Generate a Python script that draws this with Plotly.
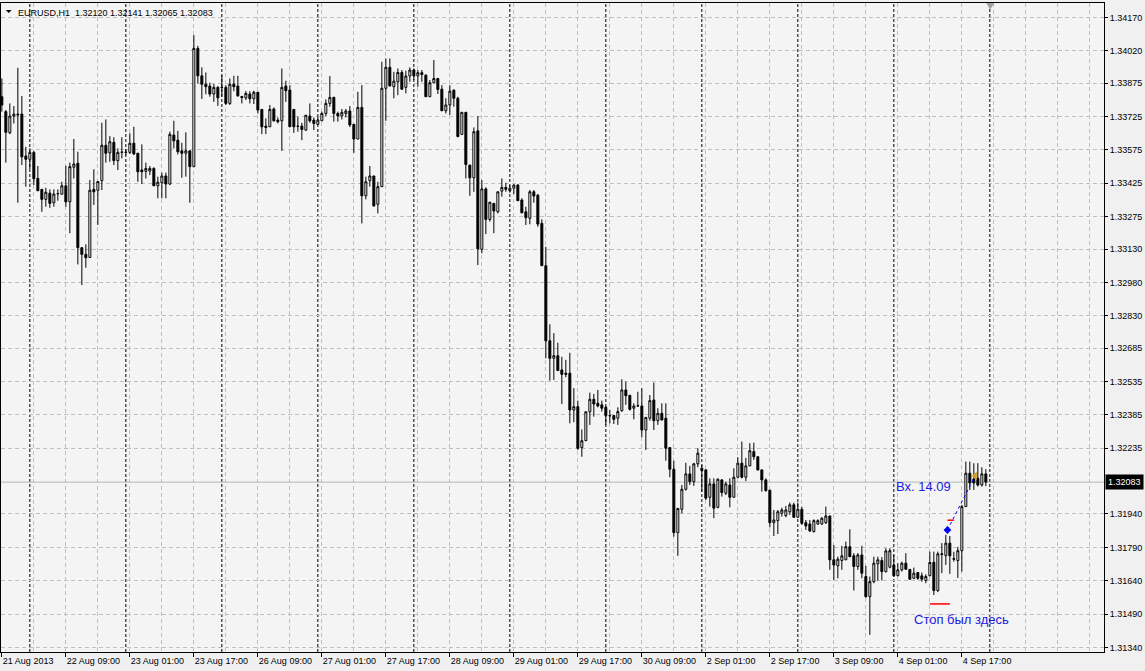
import plotly.graph_objects as go

# ---------------- data ----------------
symbol_header = "EURUSD,H1\u00a0\u00a01.32120 1.32141 1.32065 1.32083"

tick_labels = ["21 Aug 2013", "22 Aug 09:00", "23 Aug 01:00", "23 Aug 17:00",
               "26 Aug 09:00", "27 Aug 01:00", "27 Aug 17:00", "28 Aug 09:00",
               "29 Aug 01:00", "29 Aug 17:00", "30 Aug 09:00", "2 Sep 01:00",
               "2 Sep 17:00", "3 Sep 09:00", "4 Sep 01:00", "4 Sep 17:00"]
tick_bars = [0, 16, 32, 48, 64, 80, 96, 112, 128, 144, 160, 176, 192, 208, 224, 240]

price_ticks = [1.34170, 1.34020, 1.33875, 1.33725, 1.33575, 1.33425, 1.33275,
               1.33130, 1.32980, 1.32830, 1.32685, 1.32535, 1.32385, 1.32235,
               1.31940, 1.31790, 1.31640, 1.31490, 1.31340]

day_starts = [7, 31, 55, 79, 103, 127, 151, 175, 199, 223, 247]

opens = [
    1.33814, 1.33747, 1.33652, 1.33727, 1.33736, 1.33736, 1.33548, 1.33533,
    1.33564, 1.33447, 1.33398, 1.33353, 1.33381, 1.33338, 1.33378, 1.33376,
    1.33414, 1.33342, 1.33497, 1.33515, 1.33136, 1.33106, 1.33092, 1.33398,
    1.33394, 1.33437, 1.33596, 1.33562, 1.33609, 1.33527, 1.33564, 1.33565,
    1.33564, 1.33605, 1.33560, 1.33485, 1.33479, 1.33480, 1.33492, 1.33414,
    1.33428, 1.33458, 1.33422, 1.33642, 1.33619, 1.33571, 1.33560, 1.33571,
    1.33500, 1.34031, 1.33908, 1.33870, 1.33862, 1.33826, 1.33856, 1.33856,
    1.33856, 1.33784, 1.33870, 1.33862, 1.33815, 1.33809, 1.33826, 1.33805,
    1.33834, 1.33757, 1.33682, 1.33679, 1.33759, 1.33709, 1.33706, 1.33862,
    1.33844, 1.33757, 1.33682, 1.33682, 1.33664, 1.33727, 1.33709, 1.33690,
    1.33706, 1.33739, 1.33784, 1.33811, 1.33739, 1.33728, 1.33739, 1.33750,
    1.33690, 1.33624, 1.33766, 1.33369, 1.33437, 1.33458, 1.33331, 1.33410,
    1.33852, 1.33946, 1.33859, 1.33881, 1.33923, 1.33856, 1.33907, 1.33934,
    1.33908, 1.33922, 1.33911, 1.33814, 1.33877, 1.33896, 1.33848, 1.33751,
    1.33777, 1.33844, 1.33807, 1.33645, 1.33744, 1.33507, 1.33450, 1.33661,
    1.33129, 1.33400, 1.33263, 1.33335, 1.33297, 1.33390, 1.33407, 1.33392,
    1.33403, 1.33417, 1.33350, 1.33297, 1.33268, 1.33387, 1.33372, 1.33245,
    1.33055, 1.32718, 1.32639, 1.32651, 1.32587, 1.32572, 1.32572, 1.32407,
    1.32422, 1.32238, 1.32269, 1.32399, 1.32455, 1.32437, 1.32430, 1.32419,
    1.32382, 1.32382, 1.32370, 1.32404, 1.32497, 1.32473, 1.32415, 1.32425,
    1.32425, 1.32317, 1.32370, 1.32452, 1.32359, 1.32392, 1.32370, 1.32238,
    1.32141, 1.31856, 1.31961, 1.32051, 1.32120, 1.32085, 1.32165, 1.32145,
    1.32138, 1.32015, 1.32075, 1.31970, 1.32093, 1.32033, 1.32070, 1.32015,
    1.32105, 1.32168, 1.32105, 1.32156, 1.32220, 1.32197, 1.32138, 1.32093,
    1.32047, 1.31901, 1.31910, 1.31943, 1.31933, 1.31950, 1.31981, 1.31925,
    1.31961, 1.31901, 1.31895, 1.31861, 1.31895, 1.31895, 1.31901, 1.31931,
    1.31734, 1.31707, 1.31731, 1.31734, 1.31793, 1.31752, 1.31704, 1.31756,
    1.31659, 1.31569, 1.31636, 1.31716, 1.31731, 1.31681, 1.31701, 1.31711,
    1.31663, 1.31689, 1.31719, 1.31691, 1.31651, 1.31677, 1.31662, 1.31641,
    1.31663, 1.31723, 1.31596, 1.31761, 1.31753, 1.31809, 1.31739, 1.31731,
    1.31775, 1.31973, 1.32123, 1.32097, 1.32100, 1.32070, 1.32120]

highs = [
    1.33896, 1.33754, 1.33784, 1.33772, 1.33944, 1.33817, 1.33589, 1.33582,
    1.33571, 1.33503, 1.33398, 1.33405, 1.33398, 1.33398, 1.33398, 1.33432,
    1.33504, 1.33518, 1.33624, 1.33567, 1.33138, 1.33151, 1.33440, 1.33488,
    1.33434, 1.33697, 1.33712, 1.33637, 1.33632, 1.33582, 1.33632, 1.33579,
    1.33650, 1.33679, 1.33562, 1.33600, 1.33518, 1.33503, 1.33497, 1.33455,
    1.33473, 1.33473, 1.33657, 1.33706, 1.33661, 1.33607, 1.33654, 1.33572,
    1.34091, 1.34043, 1.33946, 1.33923, 1.33877, 1.33871, 1.33862, 1.33911,
    1.33866, 1.33896, 1.33908, 1.33908, 1.33818, 1.33839, 1.33839, 1.33841,
    1.33836, 1.33759, 1.33717, 1.33777, 1.33766, 1.33721, 1.33941, 1.33886,
    1.33866, 1.33759, 1.33724, 1.33697, 1.33732, 1.33784, 1.33721, 1.33727,
    1.33747, 1.33802, 1.33907, 1.33814, 1.33747, 1.33759, 1.33759, 1.33772,
    1.33691, 1.33836, 1.33866, 1.33455, 1.33503, 1.33459, 1.33432, 1.33971,
    1.33986, 1.33986, 1.33926, 1.33941, 1.33934, 1.33931, 1.33946, 1.33941,
    1.33934, 1.33934, 1.33914, 1.33889, 1.33979, 1.33897, 1.33866, 1.33807,
    1.33866, 1.33845, 1.33814, 1.33745, 1.33745, 1.33508, 1.33676, 1.33727,
    1.33440, 1.33407, 1.33342, 1.33336, 1.33388, 1.33447, 1.33428, 1.33417,
    1.33422, 1.33422, 1.33358, 1.33320, 1.33395, 1.33395, 1.33377, 1.33263,
    1.33140, 1.32792, 1.32752, 1.32709, 1.32646, 1.32632, 1.32664, 1.32505,
    1.32449, 1.32320, 1.32400, 1.32485, 1.32479, 1.32497, 1.32449, 1.32425,
    1.32407, 1.32385, 1.32419, 1.32545, 1.32534, 1.32474, 1.32437, 1.32489,
    1.32505, 1.32374, 1.32474, 1.32530, 1.32415, 1.32437, 1.32437, 1.32239,
    1.32179, 1.31966, 1.32070, 1.32170, 1.32156, 1.32170, 1.32235, 1.32160,
    1.32141, 1.32100, 1.32100, 1.32100, 1.32096, 1.32085, 1.32100, 1.32145,
    1.32195, 1.32265, 1.32192, 1.32258, 1.32260, 1.32198, 1.32139, 1.32100,
    1.32048, 1.31958, 1.31958, 1.31968, 1.31976, 1.31991, 1.31991, 1.31991,
    1.31973, 1.31913, 1.31913, 1.31916, 1.31916, 1.31925, 1.31973, 1.31932,
    1.31801, 1.31748, 1.31797, 1.31816, 1.31871, 1.31764, 1.31764, 1.31797,
    1.31707, 1.31659, 1.31748, 1.31748, 1.31746, 1.31786, 1.31786, 1.31756,
    1.31719, 1.31726, 1.31764, 1.31692, 1.31699, 1.31678, 1.31677, 1.31669,
    1.31771, 1.31771, 1.31771, 1.31809, 1.31846, 1.31841, 1.31770, 1.31792,
    1.31981, 1.32175, 1.32175, 1.32168, 1.32168, 1.32150, 1.32141]

lows = [
    1.33747, 1.33518, 1.33646, 1.33694, 1.33338, 1.33507, 1.33410, 1.33489,
    1.33417, 1.33390, 1.33297, 1.33320, 1.33315, 1.33320, 1.33347, 1.33376,
    1.33320, 1.33201, 1.33447, 1.33061, 1.32968, 1.33046, 1.33090, 1.33328,
    1.33238, 1.33395, 1.33518, 1.33522, 1.33507, 1.33485, 1.33537, 1.33552,
    1.33557, 1.33552, 1.33432, 1.33422, 1.33447, 1.33462, 1.33413, 1.33358,
    1.33358, 1.33358, 1.33417, 1.33582, 1.33555, 1.33450, 1.33455, 1.33338,
    1.33499, 1.33874, 1.33804, 1.33825, 1.33814, 1.33791, 1.33773, 1.33814,
    1.33777, 1.33777, 1.33839, 1.33814, 1.33784, 1.33799, 1.33784, 1.33781,
    1.33739, 1.33646, 1.33646, 1.33678, 1.33702, 1.33694, 1.33571, 1.33791,
    1.33678, 1.33652, 1.33657, 1.33619, 1.33661, 1.33697, 1.33664, 1.33687,
    1.33705, 1.33727, 1.33769, 1.33702, 1.33702, 1.33712, 1.33721, 1.33678,
    1.33562, 1.33623, 1.33245, 1.33353, 1.33410, 1.33320, 1.33290, 1.33409,
    1.33706, 1.33859, 1.33807, 1.33821, 1.33844, 1.33829, 1.33881, 1.33889,
    1.33859, 1.33881, 1.33813, 1.33813, 1.33874, 1.33826, 1.33750, 1.33739,
    1.33732, 1.33769, 1.33632, 1.33642, 1.33447, 1.33369, 1.33387, 1.33058,
    1.33111, 1.33197, 1.33253, 1.33201, 1.33290, 1.33365, 1.33387, 1.33383,
    1.33377, 1.33346, 1.33290, 1.33238, 1.33241, 1.33338, 1.33230, 1.33054,
    1.32639, 1.32539, 1.32542, 1.32583, 1.32434, 1.32554, 1.32347, 1.32352,
    1.32228, 1.32197, 1.32268, 1.32340, 1.32377, 1.32419, 1.32400, 1.32340,
    1.32347, 1.32344, 1.32340, 1.32399, 1.32430, 1.32404, 1.32365, 1.32422,
    1.32285, 1.32228, 1.32359, 1.32317, 1.32340, 1.32361, 1.32179, 1.32105,
    1.31838, 1.31752, 1.31943, 1.32045, 1.32070, 1.32066, 1.32150, 1.32040,
    1.32003, 1.31973, 1.31921, 1.31965, 1.32018, 1.32025, 1.31970, 1.32014,
    1.32100, 1.32100, 1.32088, 1.32155, 1.32183, 1.32135, 1.32040, 1.32040,
    1.31880, 1.31841, 1.31850, 1.31928, 1.31925, 1.31936, 1.31924, 1.31924,
    1.31891, 1.31868, 1.31859, 1.31856, 1.31891, 1.31891, 1.31895, 1.31689,
    1.31644, 1.31651, 1.31689, 1.31733, 1.31747, 1.31596, 1.31689, 1.31651,
    1.31563, 1.31397, 1.31629, 1.31641, 1.31641, 1.31677, 1.31696, 1.31659,
    1.31659, 1.31681, 1.31689, 1.31644, 1.31647, 1.31644, 1.31636, 1.31629,
    1.31659, 1.31576, 1.31589, 1.31674, 1.31711, 1.31671, 1.31726, 1.31653,
    1.31681, 1.31972, 1.32048, 1.32048, 1.32063, 1.32063, 1.32065]

closes = [
    1.33777, 1.33654, 1.33727, 1.33736, 1.33733, 1.33544, 1.33533, 1.33564,
    1.33446, 1.33392, 1.33353, 1.33385, 1.33335, 1.33377, 1.33379, 1.33414,
    1.33342, 1.33500, 1.33512, 1.33136, 1.33106, 1.33091, 1.33394, 1.33387,
    1.33433, 1.33596, 1.33560, 1.33612, 1.33527, 1.33564, 1.33565, 1.33564,
    1.33605, 1.33557, 1.33477, 1.33477, 1.33492, 1.33492, 1.33414, 1.33430,
    1.33458, 1.33422, 1.33645, 1.33616, 1.33567, 1.33560, 1.33571, 1.33500,
    1.34031, 1.33908, 1.33870, 1.33859, 1.33826, 1.33856, 1.33809, 1.33855,
    1.33784, 1.33870, 1.33859, 1.33818, 1.33810, 1.33829, 1.33805, 1.33834,
    1.33754, 1.33679, 1.33676, 1.33757, 1.33706, 1.33702, 1.33856, 1.33841,
    1.33679, 1.33679, 1.33681, 1.33667, 1.33731, 1.33706, 1.33694, 1.33709,
    1.33739, 1.33784, 1.33811, 1.33739, 1.33728, 1.33744, 1.33750, 1.33687,
    1.33624, 1.33766, 1.33369, 1.33432, 1.33458, 1.33324, 1.33410, 1.33852,
    1.33946, 1.33863, 1.33884, 1.33923, 1.33848, 1.33907, 1.33934, 1.33908,
    1.33922, 1.33914, 1.33814, 1.33877, 1.33896, 1.33847, 1.33751, 1.33777,
    1.33839, 1.33807, 1.33635, 1.33744, 1.33510, 1.33450, 1.33657, 1.33131,
    1.33400, 1.33263, 1.33340, 1.33301, 1.33387, 1.33407, 1.33398, 1.33403,
    1.33417, 1.33347, 1.33293, 1.33271, 1.33387, 1.33368, 1.33242, 1.33055,
    1.32718, 1.32639, 1.32651, 1.32584, 1.32567, 1.32567, 1.32407, 1.32422,
    1.32235, 1.32269, 1.32399, 1.32455, 1.32434, 1.32425, 1.32415, 1.32382,
    1.32381, 1.32365, 1.32400, 1.32497, 1.32471, 1.32410, 1.32425, 1.32426,
    1.32317, 1.32374, 1.32449, 1.32359, 1.32392, 1.32362, 1.32235, 1.32141,
    1.31856, 1.31965, 1.32051, 1.32120, 1.32085, 1.32165, 1.32213, 1.32135,
    1.32011, 1.32075, 1.31966, 1.32096, 1.32036, 1.32075, 1.32015, 1.32105,
    1.32168, 1.32105, 1.32156, 1.32224, 1.32197, 1.32138, 1.32093, 1.32045,
    1.31901, 1.31913, 1.31950, 1.31958, 1.31958, 1.31981, 1.31925, 1.31961,
    1.31898, 1.31886, 1.31864, 1.31910, 1.31910, 1.31921, 1.31931, 1.31734,
    1.31711, 1.31737, 1.31752, 1.31793, 1.31748, 1.31704, 1.31756, 1.31674,
    1.31569, 1.31636, 1.31719, 1.31734, 1.31681, 1.31774, 1.31775, 1.31663,
    1.31689, 1.31719, 1.31692, 1.31647, 1.31674, 1.31651, 1.31647, 1.31659,
    1.31722, 1.31596, 1.31761, 1.31758, 1.31809, 1.31752, 1.31737, 1.31775,
    1.31973, 1.32123, 1.32079, 1.32079, 1.32070, 1.32120, 1.32083]

# trade objects drawn on the chart
entry_bar, entry_price = 236.4, 1.31868
exit_bar, exit_price = 243.3, 1.32111
stop_bars, stop_price = [232.0, 237.0], 1.31536
sl_mark_bars, sl_mark_price = [236.4, 238.0], 1.31912
entry_text = "Вх. 14.09"
entry_text_pos = (223.1, 1.32063)
stop_text = "Стоп был здесь"
stop_text_pos = (227.5, 1.31467)
last_price = closes[-1]

# ---------------- figure ----------------
FONT = "Liberation Sans, Arial, sans-serif"
GRID = "#c0c0c0"
bars = list(range(len(opens)))

fig = go.Figure()
fig.add_trace(go.Candlestick(
    x=bars, open=opens, high=highs, low=lows, close=closes,
    increasing=dict(line=dict(color="black", width=1), fillcolor="white"),
    decreasing=dict(line=dict(color="black", width=1), fillcolor="black"),
    whiskerwidth=0, hoverinfo="skip"))

# blue dotted trade line + entry marker
fig.add_trace(go.Scatter(x=[entry_bar, exit_bar], y=[entry_price, exit_price],
                         mode="lines", line=dict(color="#0000ff", width=1, dash="dot"),
                         hoverinfo="skip"))
fig.add_trace(go.Scatter(x=[entry_bar], y=[entry_price], mode="markers",
                         marker=dict(symbol="diamond", size=6, color="#0000ff"),
                         hoverinfo="skip"))
fig.add_trace(go.Scatter(x=[exit_bar], y=[exit_price], mode="markers",
                         marker=dict(symbol="triangle-left", size=7, color="#d4a020"),
                         hoverinfo="skip"))
# red stop levels
fig.add_trace(go.Scatter(x=stop_bars, y=[stop_price, stop_price], mode="lines",
                         line=dict(color="#ff0000", width=1.5), hoverinfo="skip"))
fig.add_trace(go.Scatter(x=sl_mark_bars, y=[sl_mark_price, sl_mark_price], mode="lines",
                         line=dict(color="#ff0000", width=1.5), hoverinfo="skip"))

shapes = []
for d in day_starts:
    shapes.append(dict(type="line", xref="x", yref="paper", x0=d, x1=d, y0=0, y1=1,
                       line=dict(color="black", width=1, dash="3px,2px"), layer="below"))
shapes.append(dict(type="line", xref="paper", yref="y", x0=0, x1=1,
                   y0=last_price, y1=last_price,
                   line=dict(color="#b4b4b4", width=1), layer="below"))
# chart-shift marker
shapes.append(dict(type="path", xref="x", yref="paper",
                   path="M 246.1 1 L 248.1 1 L 247.1 0.990 Z",
                   fillcolor="#a0a0a0", line=dict(width=0)))
# header triangle
shapes.append(dict(type="path", xref="paper", yref="paper",
                   path="M 0.0043 0.9892 L 0.0097 0.9892 L 0.0070 0.9846 Z",
                   fillcolor="black", line=dict(width=0)))

annotations = [
    dict(xref="paper", yref="paper", x=0, y=1, xanchor="left", yanchor="top",
         xshift=15, yshift=-3, text=symbol_header, showarrow=False,
         font=dict(family=FONT, size=9, color="black")),
    dict(xref="x", yref="y", x=entry_text_pos[0], y=entry_text_pos[1],
         xanchor="left", yanchor="middle", text=entry_text, showarrow=False,
         font=dict(family=FONT, size=13, color="#2020e0")),
    dict(xref="x", yref="y", x=stop_text_pos[0], y=stop_text_pos[1],
         xanchor="left", yanchor="middle", text=stop_text, showarrow=False,
         font=dict(family=FONT, size=13, color="#2020e0")),
    dict(xref="paper", yref="y", x=1, y=last_price, xanchor="left", yanchor="middle",
         xshift=1, text=f"{last_price:.5f}", showarrow=False, bgcolor="black",
         borderpad=2, font=dict(family=FONT, size=9, color="white")),
]

fig.update_layout(
    width=1145, height=671,
    margin=dict(l=1, r=41, t=3, b=19),
    paper_bgcolor="#f0f0f0", plot_bgcolor="#f4f4f4",
    showlegend=False, boxgap=0.3,
    font=dict(family=FONT, size=9, color="black"),
    shapes=shapes, annotations=annotations,
)
fig.update_xaxes(
    range=[-0.2125, 275.54], tickmode="array", tickvals=tick_bars, ticktext=tick_labels,
    ticks="outside", ticklen=4, tickcolor="black", ticklabelposition="outside right",
    showgrid=True, gridcolor=GRID, griddash="4px,3px", gridwidth=1,
    minor=dict(tickmode="linear", tick0=0, dtick=8, showgrid=True, gridcolor=GRID,
               griddash="4px,3px", ticklen=0),
    showline=True, linecolor="black", linewidth=1, mirror=True, zeroline=False,
    rangeslider_visible=False, fixedrange=True,
    tickfont=dict(family=FONT, size=9, color="black"),
)
fig.update_yaxes(
    side="right", range=[1.31320, 1.34235], tickmode="array", tickvals=price_ticks,
    ticktext=[f"{p:.5f}" for p in price_ticks],
    ticks="outside", ticklen=3, tickcolor="black",
    showgrid=True, gridcolor=GRID, griddash="4px,3px", gridwidth=1,
    showline=True, linecolor="black", linewidth=1, mirror=True, zeroline=False,
    fixedrange=True, tickfont=dict(family=FONT, size=9, color="black"),
)

fig.write_html("out.html", config={"displayModeBar": False},
               post_script="document.body.style.margin='0';document.body.style.padding='0';"
                           "document.documentElement.style.overflow='hidden';")
